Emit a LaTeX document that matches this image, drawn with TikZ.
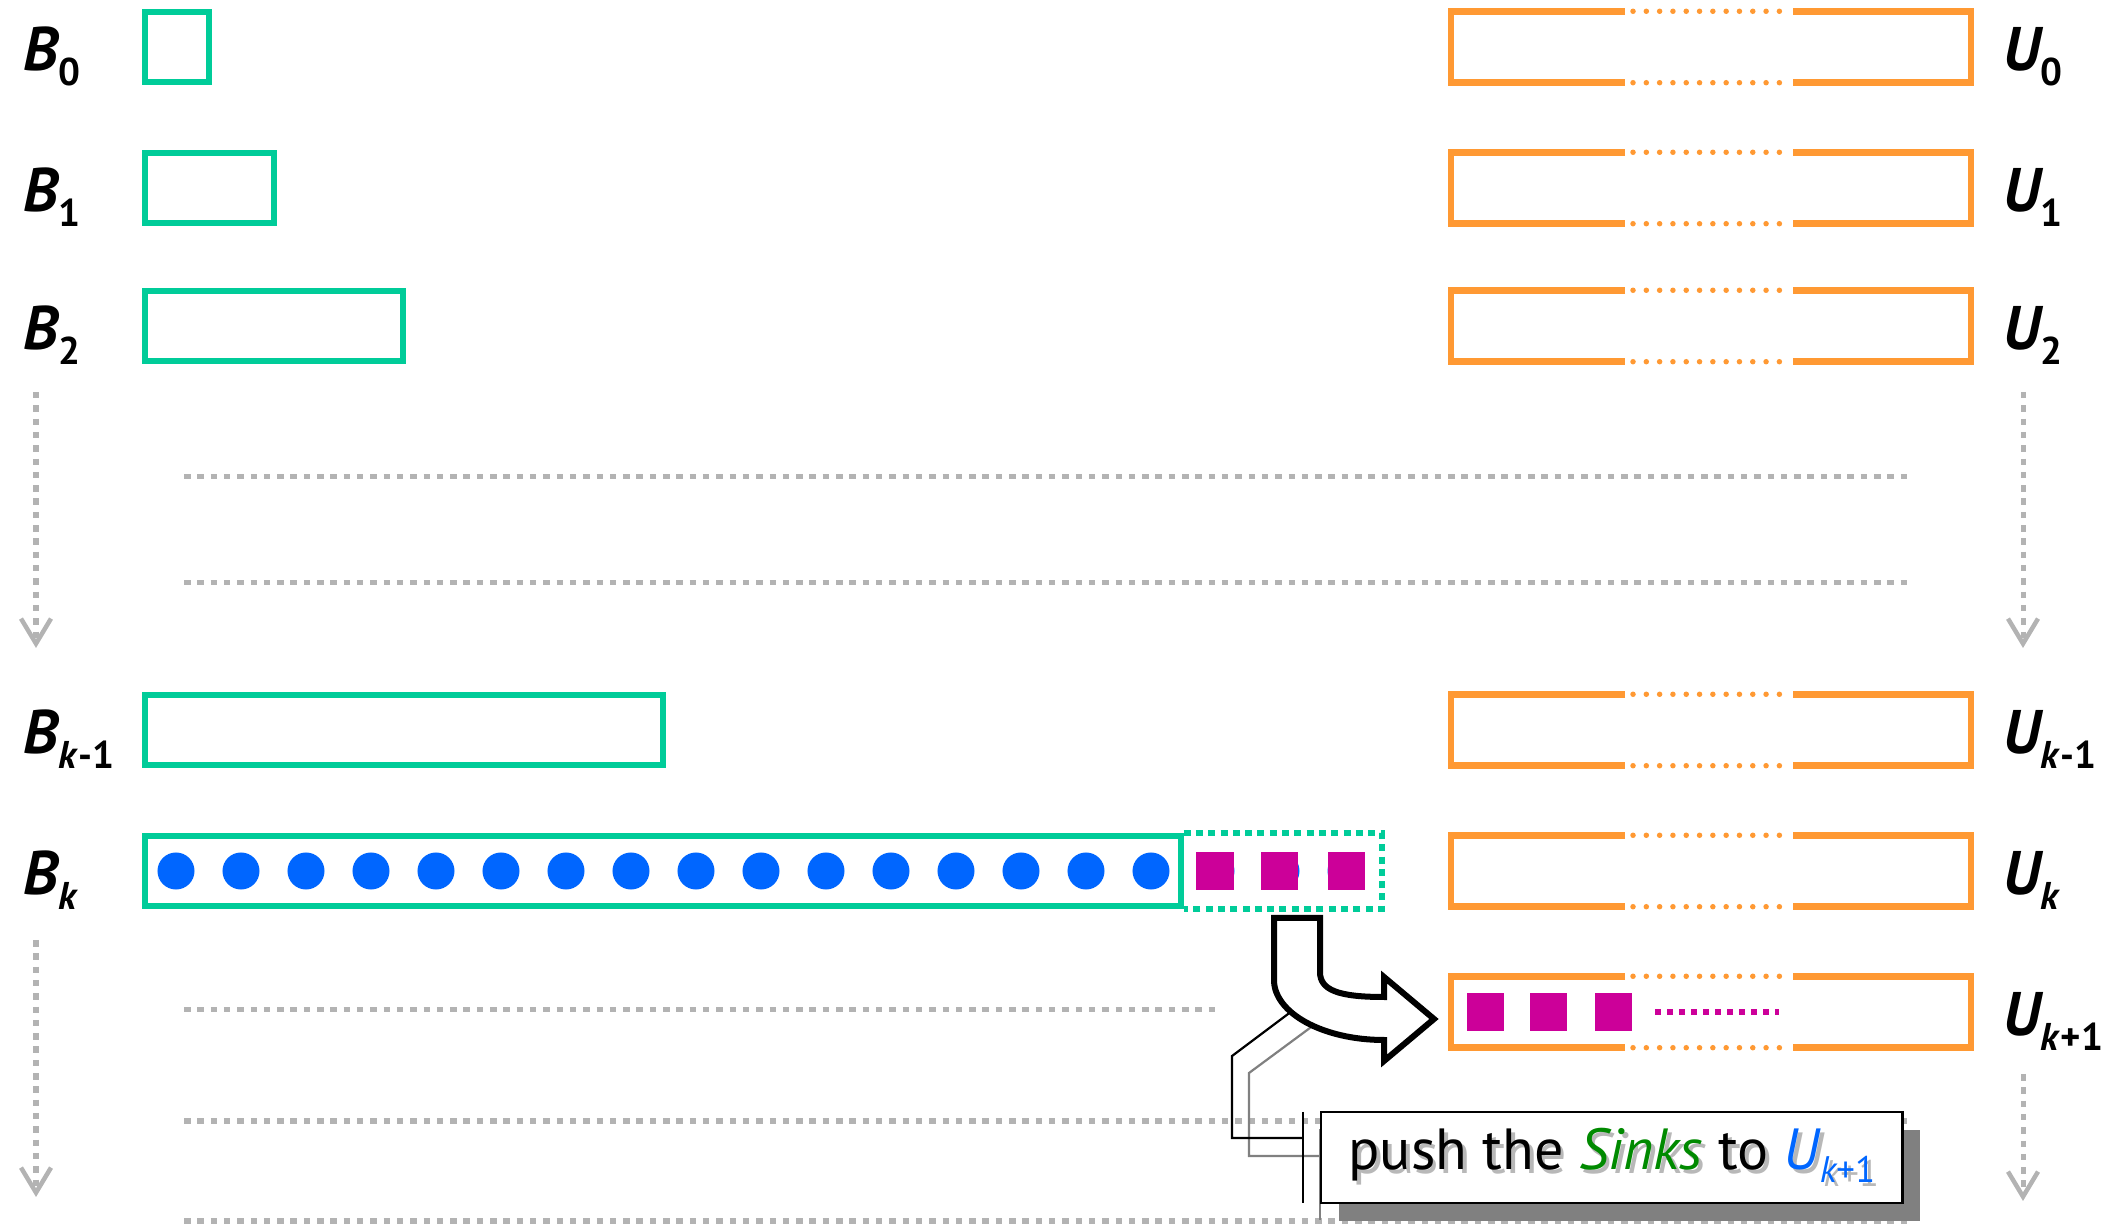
\documentclass[tikz,border=0pt]{standalone}
\usepackage{fontspec}
\setmainfont{PT Sans}
\usetikzlibrary{arrows.meta, calc, positioning, shadows}

\definecolor{bgreen}{HTML}{00CC99}
\definecolor{uorange}{HTML}{FF9933}
\definecolor{sinkblue}{HTML}{0066FF}
\definecolor{sinkmag}{HTML}{CC0099}
\definecolor{lgray}{HTML}{B3B3B3}
\definecolor{dgreen}{HTML}{008A00}

\newcommand{\setlab}[2]{{\fontsize{17.5}{20}\selectfont\bfseries\itshape #1}\raisebox{-4pt}{\fontsize{11}{12}\selectfont\bfseries #2}}
\newcommand{\shadowtext}[1]{\leavevmode\rlap{\kern1.1pt\raisebox{-1.1pt}{\textcolor{black!28}{\def\color##1{}#1}}}#1}

\begin{document}
\begin{tikzpicture}[x=0.01cm, y=-0.01cm,
    bbox/.style={draw=bgreen, line width=0.06cm, minimum height=0.7cm, anchor=west, inner sep=0},
    uline/.style={uorange, line width=0.065cm},
    udots/.style={uorange, line width=0.055cm, line cap=round, dash pattern=on 0pt off 0.133cm},
    guide/.style={lgray, line width=0.05cm, dash pattern=on 0.065cm off 0.068cm},
    gdown/.style={guide, -{Straight Barb[length=0.25cm, width=0.3cm, line width=0.045cm]}},
    lab/.style={anchor=base west, inner sep=0},
    blob/.style={circle, fill=sinkblue, minimum size=0.37cm, inner sep=0},
    sink/.style={fill=sinkmag, minimum size=0.37cm, inner sep=0},
    note/.style={draw, line width=0.022cm, fill=white, minimum width=5.81cm, minimum height=0.91cm, inner sep=0,
        font=\fontsize{16.5}{19}\selectfont,
        drop shadow={shadow xshift=0.18cm, shadow yshift=-0.18cm, fill=black!50, opacity=1}}]
    \useasboundingbox (0,0) rectangle (2105,1225);

    \draw[guide] (184,477) -- (1907,477);
    \draw[guide] (184,583) -- (1907,583);
    \draw[guide] (184,1010) -- (1219,1010);
    \draw[guide] (184,1121) -- (1907,1121);
    \draw[guide] (184,1221) -- (1907,1221);

    \draw[gdown] (36,392) -- (36,648);
    \draw[gdown] (36,940) -- (36,1197);
    \draw[gdown] (2023,392) -- (2023,648);
    \draw[gdown] (2023,1074) -- (2023,1201);

    \foreach \n/\y in {0/47, 1/188, 2/326}
        \node[lab] (lb\n) at (23,\y+24) {\setlab{B}{\n}};
    \node[lab] (lbk1) at (23,754) {\setlab{B}{\textit{k}-1}};
    \node[lab] (lbk) at (23,895) {\setlab{B}{\textit{k}}};

    \foreach \n/\y/\s in {0/47/0, 1/188/1, 2/326/2, k1/730/{\textit{k}-1}, k/871/{\textit{k}}, kk/1012/{\textit{k}+1}} {
        \node[lab] (lu\n) at (2003,\y+24) {\setlab{U}{\s}};
        \node[minimum width=5.18cm, minimum height=0.7cm, inner sep=0] (u\n) at (1711,\y) {};
        \draw[uline] ($(u\n.north)+(-86,0)$) -| (u\n.south west) -- ($(u\n.south)+(-86,0)$);
        \draw[uline] ($(u\n.north)+(82,0)$) -| (u\n.south east) -- ($(u\n.south)+(82,0)$);
        \draw[udots] ($(u\n.north)+(-78,0)$) -- ($(u\n.north)+(79,0)$);
        \draw[udots] ($(u\n.south)+(-78,0)$) -- ($(u\n.south)+(79,0)$);
    }

    \node[bbox, minimum width=0.64cm] (b0) at (142,47) {};
    \node[bbox, minimum width=1.29cm] (b1) at (142,188) {};
    \node[bbox, minimum width=2.58cm] (b2) at (142,326) {};
    \node[bbox, minimum width=5.18cm] (bk1) at (142,730) {};
    \node[bbox, minimum width=10.35cm] (bk) at (142,871) {};
    \draw[bgreen, line width=0.06cm, dash pattern=on 0.07cm off 0.053cm] (bk.north east) -- ++(198,0) |- (bk.south east);

    \foreach \i in {0,...,18}
        \node[blob] (dot\i) at (176+\i*65,871) {};
    \foreach \i/\x in {1/1215, 2/1279, 3/1346}
        \node[sink] (s\i) at (\x,871) {};
    \foreach \i/\x in {1/1485, 2/1548, 3/1613}
        \node[sink] (t\i) at (\x,1012) {};
    \draw[sinkmag, line width=0.06cm, dash pattern=on 0.06cm off 0.06cm] (t3.east) ++(23,0) -- ++(124,0);

    \coordinate (tail) at (1300,1005);
    \coordinate (bar) at (1303,1157.5);
    \draw[black!50, line width=0.022cm] ($(tail)+(18,17)$) -- (1249,1073) |- ($(bar)+(17,-1.5)$);
    \draw[black!50, line width=0.022cm] ($(bar)+(17,-28)$) -- ++(0,91);
    \draw[line width=0.022cm] (tail) -- (1232,1056) |- ($(bar)+(0,-19.5)$);
    \draw[line width=0.022cm] ($(bar)+(0,-45.5)$) -- ++(0,91);
    \node[note, right=0.17cm of bar] (note) {\shadowtext{push the {\color{dgreen}\itshape Sinks} to {\color{sinkblue}\itshape U\raisebox{-3.6pt}{\fontsize{10.5}{11}\selectfont k\upshape+1}}}};

    \draw[line width=0.06cm, fill=white, line join=miter] (1274,918) -- (1320,918) -- (1320,972)
        .. controls (1320,990) and (1338,997) .. (1384,997) -- (1384,977) -- (1434,1019) -- (1384,1061) -- (1384,1040)
        .. controls (1323,1040) and (1274,1013) .. (1274,980) -- cycle;
\end{tikzpicture}
\end{document}
